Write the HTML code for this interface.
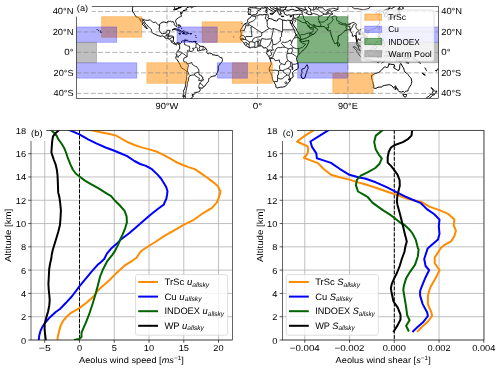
<!DOCTYPE html><html><head><meta charset="utf-8"><style>html,body{margin:0;padding:0;background:#fff;overflow:hidden}svg{display:block;will-change:transform;text-rendering:geometricPrecision;font-family:"Liberation Sans",sans-serif}</style></head><body>
<svg width="500" height="370" viewBox="0 0 500 370" font-size="8.60" fill="#000">
<rect width="500" height="370" fill="#fff"/>
<defs><clipPath id="mc"><rect x="76.50" y="6.40" width="362.00" height="92.10"/></clipPath>
<clipPath id="bc"><rect x="31.00" y="130.40" width="201.50" height="209.60"/></clipPath>
<clipPath id="cc"><rect x="282.40" y="130.40" width="201.60" height="209.60"/></clipPath>
</defs>
<g clip-path="url(#mc)">
<path d="M132.80,4.25 L132.69,6.30 L132.69,7.33 L132.39,8.56 L132.59,9.89 L132.39,11.01 L133.00,11.94 L133.80,13.27 L134.30,13.68 L134.40,14.29 L134.91,14.91 L135.31,15.52 L136.21,16.96 L137.32,17.16 L138.32,17.57 L138.83,17.98 L139.63,18.90 L140.13,19.82 L140.64,20.85 L141.14,21.67 L142.04,22.69 L142.65,23.20 L142.75,23.92 L141.94,24.02 L142.65,24.74 L143.75,25.56 L144.66,26.59 L144.76,27.20 L145.66,27.71 L146.57,28.43 L146.97,28.94 L147.37,28.53 L146.97,27.81 L146.37,27.61 L146.17,26.99 L145.56,25.97 L144.96,25.05 L144.36,24.23 L143.95,23.51 L143.35,22.49 L142.55,21.46 L142.04,20.34 L142.24,19.82 L143.25,20.34 L143.95,20.64 L144.36,21.46 L144.66,22.39 L145.36,23.31 L146.06,23.82 L146.67,24.54 L147.47,25.46 L147.67,26.18 L148.48,26.69 L149.28,27.40 L150.39,28.53 L151.19,29.35 L151.49,30.38 L151.59,31.30 L151.29,31.60 L151.90,32.53 L152.60,32.83 L153.40,33.65 L154.71,34.06 L155.92,34.68 L157.02,35.19 L158.43,35.70 L159.94,36.21 L160.94,36.32 L161.75,35.91 L162.55,35.80 L163.46,36.21 L164.66,37.44 L165.57,38.16 L166.87,38.37 L167.68,38.57 L168.58,38.88 L169.19,38.78 L169.49,39.19 L170.19,39.80 L171.00,40.72 L171.30,41.13 L171.20,41.75 L171.40,42.26 L172.00,42.57 L172.40,42.57 L172.81,42.87 L173.41,43.59 L173.71,43.90 L174.11,44.20 L174.82,44.00 L175.52,44.51 L176.12,45.02 L176.63,44.92 L177.03,44.72 L176.63,44.20 L177.43,43.28 L178.03,43.28 L178.54,43.80 L178.84,43.90 L178.64,44.20 L179.14,45.02 L179.54,45.54 L179.64,46.77 L179.74,48.30 L179.54,49.12 L178.64,49.74 L178.33,50.56 L177.53,51.17 L177.03,51.58 L176.93,52.40 L176.63,52.71 L176.12,53.42 L176.32,54.35 L176.12,54.65 L176.73,55.06 L177.13,54.86 L177.23,55.47 L176.73,55.88 L175.92,56.50 L175.72,57.21 L176.02,57.73 L175.82,58.44 L176.12,58.65 L177.23,59.78 L178.03,61.00 L178.84,62.64 L179.94,64.49 L180.75,66.23 L181.05,67.46 L181.85,68.07 L183.56,69.10 L184.87,69.81 L185.67,70.63 L186.68,71.25 L186.88,72.68 L186.98,74.32 L186.78,75.45 L186.48,76.58 L186.68,78.01 L186.18,80.67 L185.67,82.01 L185.57,83.23 L185.37,84.67 L185.57,85.59 L185.17,87.13 L184.57,88.77 L183.86,90.41 L183.46,90.51 L183.56,91.63 L183.86,92.66 L183.36,93.38 L183.16,94.40 L183.46,94.91 L184.27,95.22 L184.47,95.83 L184.27,96.96 L183.66,97.68 L183.56,98.70 L183.06,100.03 M183.16,95.22 L183.56,95.53 L183.46,96.55 L182.86,96.76 L183.06,95.42 L183.16,95.22 M189.59,100.03 L189.90,99.01 L190.90,98.50 L191.81,98.40 L192.11,97.17 L192.81,96.35 L193.51,96.14 L192.91,95.73 L192.01,95.42 L192.11,94.61 L193.31,94.61 L194.52,94.20 L194.92,93.79 L194.72,92.56 L195.63,92.35 L197.13,92.25 L198.54,91.94 L199.55,91.43 L199.95,90.61 L200.45,89.69 L199.85,89.18 L200.05,88.66 L199.14,88.05 L198.74,87.74 L199.34,87.64 L200.05,87.74 L200.95,88.15 L202.16,88.15 L203.06,87.64 L203.77,86.92 L204.47,86.41 L205.68,84.77 L206.48,83.75 L207.19,82.62 L208.39,81.60 L208.59,80.57 L208.69,79.55 L208.69,78.83 L209.60,77.91 L210.81,76.99 L212.61,76.27 L214.02,75.96 L215.23,75.86 L216.23,74.94 L216.43,73.91 L217.04,73.09 L217.54,72.27 L218.04,70.63 L218.34,68.79 L218.24,67.25 L218.34,66.33 L218.95,65.51 L219.65,64.49 L220.36,63.46 L221.46,62.34 L222.16,61.41 L222.37,60.39 L222.47,59.67 L222.16,58.75 L221.86,57.73 L220.76,57.62 L219.75,57.11 L218.75,56.19 L217.64,55.37 L215.83,55.37 L214.83,55.06 L213.22,54.86 L212.72,55.06 L212.61,54.24 L211.21,53.42 L209.40,53.01 L208.59,53.73 L207.99,53.94 L207.69,53.32 L206.98,52.91 L206.38,52.30 L206.78,51.48 L207.19,50.66 L206.58,50.15 L206.08,48.81 L205.48,48.10 L204.57,47.07 L203.27,46.46 L202.16,46.25 L200.95,46.36 L200.05,46.25 L199.14,45.43 L198.64,44.92 L197.33,43.80 L196.53,43.59 L196.13,43.69 L195.52,42.26 L194.82,41.85 L194.42,41.54 L195.22,41.44 L194.12,41.44 L192.81,41.75 L192.11,42.05 L190.90,41.54 L189.79,41.64 L188.89,41.64 L188.19,40.72 L187.18,40.72 L186.88,40.52 L187.08,39.90 L186.78,40.21 L185.77,40.41 L185.57,41.23 L185.17,40.52 L184.87,40.21 L185.37,39.70 L184.77,39.90 L183.76,40.82 L182.86,40.82 L182.15,41.03 L181.55,41.54 L181.35,42.77 L180.75,43.28 L180.24,43.59 L180.14,44.10 L179.74,43.59 L179.14,42.87 L178.54,42.77 L177.43,42.57 L176.52,43.08 L175.62,43.39 L174.82,42.98 L174.41,42.57 L173.61,41.75 L173.31,41.13 L173.31,40.21 L173.51,39.19 L173.51,38.06 L173.71,37.03 L173.01,36.42 L172.10,36.11 L171.00,36.01 L169.99,36.11 L168.78,36.32 L168.38,36.21 L168.68,35.50 L168.78,34.58 L169.09,33.65 L169.49,32.63 L169.59,31.60 L170.19,30.58 L169.39,30.38 L168.38,30.38 L166.67,30.89 L166.47,31.60 L166.47,32.12 L165.97,32.94 L165.06,33.35 L164.16,33.35 L162.55,33.76 L161.95,33.35 L161.04,33.14 L160.64,32.63 L160.44,32.01 L159.74,31.30 L159.54,30.58 L159.13,29.56 L159.23,28.02 L159.44,26.79 L159.74,25.87 L159.54,24.84 L159.84,23.92 L160.64,23.31 L161.95,22.49 L162.95,21.98 L164.46,22.08 L165.97,22.49 L167.58,22.79 L167.78,22.39 L167.38,21.46 L168.58,21.26 L169.49,21.36 L170.59,21.26 L171.70,21.98 L172.91,21.57 L174.01,22.59 L174.31,23.72 L174.31,24.43 L175.22,25.66 L176.02,26.59 L176.63,26.48 L176.93,25.56 L176.93,24.74 L176.42,23.41 L176.02,22.39 L175.62,21.26 L175.72,20.44 L176.22,19.41 L177.13,18.80 L178.03,18.08 L178.54,17.67 L179.64,17.06 L180.55,16.65 L181.55,16.24 L181.35,15.42 L181.15,14.60 L180.75,14.50 L181.05,14.19 L180.75,12.96 L180.65,12.24 L181.05,13.17 L181.55,13.88 L181.95,13.17 L181.95,12.65 L181.65,12.14 L182.05,12.55 L182.15,12.24 L182.86,11.73 L183.06,10.91 L183.16,10.60 L184.57,10.40 L185.17,10.09 L186.08,9.89 L186.38,9.89 L187.08,9.68 L186.98,9.38 L186.48,9.07 L186.18,8.66 L186.38,8.25 L186.88,7.63 L188.09,7.33 L189.09,6.92 L190.10,6.51 L190.20,6.10 L191.60,5.69 L192.61,5.89 M183.06,10.81 L185.07,10.50 L185.17,10.30 L183.36,10.50 L183.06,10.81 M172.10,29.97 L173.01,29.25 L174.01,28.84 L175.02,28.63 L176.52,28.84 L177.53,29.35 L178.74,29.45 L179.84,30.27 L181.05,30.68 L181.45,31.19 L182.86,31.71 L182.15,31.91 L179.34,32.01 L179.84,31.40 L178.94,31.09 L178.33,30.27 L176.63,30.07 L175.22,29.66 L174.82,29.45 L173.51,29.66 L172.50,30.07 L172.10,29.97 M182.66,33.45 L184.06,32.01 L185.37,32.01 L187.08,32.32 L188.09,32.94 L188.69,33.35 L188.39,33.76 L187.08,33.76 L185.77,34.37 L185.07,33.76 L183.66,33.76 L182.66,33.55 L184.37,33.35 L184.27,32.53 L183.66,32.22 L182.66,33.45 M178.74,33.55 L180.14,33.45 L180.85,33.96 L179.84,34.27 L178.84,33.76 L178.74,33.55 M189.90,33.45 L191.50,33.55 L191.50,33.96 L189.90,33.96 L189.90,33.45 M179.04,26.59 L179.34,27.51 L178.74,27.81 L178.64,26.99 L179.04,26.59 M178.03,25.05 L179.14,24.95 L178.43,25.25 L178.03,25.05 M179.64,24.84 L180.04,25.25 L179.84,25.87 L179.64,24.84 M180.35,26.18 L180.95,26.99 L180.75,26.48 L180.35,26.18 M181.25,28.33 L181.85,28.74 L181.55,28.22 L181.25,28.33 M183.56,30.68 L184.27,30.99 L183.36,30.99 L183.56,30.68 M195.22,42.05 L196.13,42.05 L196.13,41.34 L195.42,41.44 L195.22,42.05 M195.42,35.70 L195.93,35.70 L195.63,36.01 L195.42,35.70 M195.93,37.14 L196.23,37.65 L196.03,37.55 L195.93,37.14 M100.73,31.71 L101.63,32.22 L101.03,33.04 L100.63,32.32 L100.73,31.71 M99.92,30.89 L100.63,31.09 L100.22,31.30 L99.92,30.89 M98.31,30.27 L98.92,30.58 L98.52,30.58 L98.31,30.27 M96.81,29.66 L97.31,29.66 L97.11,29.97 L96.81,29.66 M173.61,9.68 L174.51,9.78 L175.82,9.58 L177.03,9.17 L178.03,8.76 L177.83,8.04 L179.24,8.04 L180.55,7.84 L180.85,7.22 L181.55,6.71 L180.65,7.12 L179.54,7.43 L178.03,7.84 L177.43,8.45 L176.02,8.97 L174.51,9.27 L173.61,9.68 M192.61,5.89 L191.20,6.71 L190.90,7.53 L191.60,7.84 L192.61,7.12 L193.61,6.71 L195.12,6.30 L196.13,5.99 L196.63,5.28 M251.82,15.62 L251.12,16.55 L250.61,17.57 L249.81,17.98 L248.91,18.39 L248.10,19.11 L247.60,20.23 L247.80,21.26 L247.40,22.18 L246.39,23.20 L244.88,23.82 L244.18,24.74 L242.87,25.66 L242.47,27.10 L241.47,28.12 L241.06,29.15 L240.46,30.27 L240.31,31.09 L240.86,32.32 L241.26,33.45 L241.16,34.58 L240.86,35.80 L240.26,37.03 L239.86,37.34 L240.36,37.85 L240.66,38.57 L240.56,39.70 L240.86,40.11 L241.87,40.62 L242.37,41.23 L242.77,41.85 L243.68,42.67 L244.18,43.39 L244.48,44.41 L245.19,45.02 L245.99,45.43 L246.59,45.95 L247.90,46.87 L249.91,47.89 L250.41,47.89 L251.62,47.28 L253.43,47.07 L254.64,47.28 L255.54,47.48 L256.44,47.18 L257.45,46.66 L258.66,46.15 L260.16,45.95 L261.07,45.84 L261.97,45.95 L262.68,46.56 L263.38,48.00 L264.19,48.00 L264.99,47.79 L265.99,47.69 L266.70,48.40 L267.30,49.22 L267.30,50.15 L267.00,51.38 L266.80,52.09 L266.50,53.01 L267.00,54.14 L268.01,55.27 L268.71,56.29 L269.41,57.42 L269.81,58.65 L270.42,60.08 L270.72,61.21 L271.02,62.44 L271.32,63.46 L271.12,64.69 L270.22,65.82 L269.81,67.05 L269.31,68.59 L269.11,70.12 L269.61,71.25 L270.42,72.58 L270.92,73.81 L271.83,75.24 L272.03,76.78 L272.43,78.42 L272.73,80.16 L273.84,81.70 L274.44,82.62 L274.84,83.85 L275.75,84.87 L275.85,85.80 L275.95,87.13 L276.35,87.64 L277.15,88.05 L278.06,87.74 L279.06,87.54 L280.17,87.13 L281.17,87.13 L282.58,87.13 L283.39,86.92 L284.09,86.82 L285.10,86.41 L285.80,85.90 L286.80,84.77 L287.71,83.64 L288.51,82.62 L289.12,81.80 L290.02,81.39 L290.22,79.75 L290.52,79.24 L290.22,78.73 L291.03,78.32 L292.23,77.81 L293.14,77.09 L293.04,75.04 L292.43,72.89 L292.33,72.58 L293.44,71.66 L294.54,70.43 L295.85,69.92 L297.26,69.30 L298.16,68.18 L298.36,66.95 L298.16,65.20 L297.96,62.95 L297.06,61.11 L296.96,59.88 L296.45,59.06 L296.86,57.93 L297.26,56.91 L297.86,55.47 L298.57,54.55 L299.27,54.14 L300.27,53.01 L301.28,51.68 L302.18,50.76 L303.29,50.35 L304.30,49.43 L305.40,48.10 L306.31,46.97 L307.21,45.43 L308.02,43.90 L308.62,42.36 L308.82,41.54 L308.72,40.62 L309.02,40.31 L307.51,40.82 L305.70,40.93 L304.20,41.44 L302.69,41.64 L301.68,41.75 L300.98,40.62 L300.38,40.52 L300.98,39.70 L300.48,39.49 L299.27,38.67 L298.57,37.85 L297.46,36.83 L296.86,36.11 L296.15,34.06 L295.05,33.14 L294.75,31.91 L294.85,30.89 L294.54,29.86 L293.24,28.74 L293.14,27.71 L292.23,26.18 L291.53,24.74 L290.72,23.31 L290.22,21.77 L289.92,20.34 L288.81,20.23 L287.61,20.13 L286.60,20.75 L285.10,20.34 L282.78,20.03 L281.58,19.62 L280.67,19.00 L279.26,18.70 L277.66,19.41 L277.46,20.64 L276.35,21.05 L275.04,20.64 L273.13,20.13 L272.73,19.31 L270.62,18.70 L269.01,18.49 L268.01,17.88 L267.70,17.26 L268.61,16.34 L268.11,15.62 L268.41,14.80 L267.70,14.29 L267.00,14.19 L265.89,14.60 L264.79,14.39 L262.78,14.91 L260.67,14.70 L258.96,14.91 L257.45,15.62 L256.24,15.83 L255.24,16.34 L253.83,16.14 L252.83,16.24 L252.12,15.62 L251.82,15.62 M307.01,64.69 L307.71,66.23 L308.22,68.28 L307.51,69.30 L307.21,70.33 L306.51,72.38 L305.70,74.94 L304.80,77.91 L303.09,78.62 L301.68,78.01 L300.98,75.04 L301.58,73.91 L302.08,72.38 L301.68,70.33 L302.08,69.00 L303.99,68.59 L305.40,67.36 L305.70,66.43 L306.51,65.82 L307.01,64.69 M241.57,23.51 L241.97,23.82 L241.77,24.02 L241.57,23.51 M233.62,36.83 L233.93,37.03 L233.73,37.14 L233.62,36.83 M256.24,5.28 L256.14,6.81 L255.94,7.84 L255.44,7.94 L253.63,7.84 L251.82,7.74 L249.91,7.63 L249.21,8.04 L248.10,8.35 L248.40,9.38 L248.60,10.40 L247.90,12.45 L248.30,12.86 L248.60,12.96 L248.70,13.98 L248.40,14.50 L249.91,14.39 L250.82,14.50 L251.12,15.01 L251.82,15.52 L252.42,15.11 L253.03,14.80 L255.34,14.80 L255.84,14.19 L256.75,13.88 L257.15,12.96 L257.65,12.65 L257.15,12.14 L257.45,11.42 L258.35,10.40 L259.66,9.99 L260.67,9.48 L260.57,8.35 L261.97,7.84 L263.98,8.25 L264.99,7.53 L266.10,7.02 L267.40,7.33 L268.01,8.45 L268.71,8.97 L270.02,9.89 L271.12,10.19 L272.63,11.22 L273.23,11.42 L273.74,12.55 L273.23,13.27 L273.64,13.47 L274.14,12.65 L274.74,12.04 L274.04,11.42 L274.54,11.01 L276.05,11.32 L275.95,10.91 L274.54,10.30 L273.53,9.48 L271.52,8.56 L269.92,7.12 L269.81,5.99 L269.92,5.28 M270.52,5.28 L271.12,6.20 L271.83,5.99 L272.73,7.12 L273.53,7.84 L274.54,8.15 L276.05,8.86 L276.95,9.48 L276.95,11.01 L277.76,11.83 L278.66,13.17 L279.16,14.50 L280.37,15.11 L280.77,14.50 L280.37,13.78 L281.48,13.47 L280.17,12.65 L280.77,12.24 L280.17,11.12 L280.87,11.12 L281.98,11.32 L283.59,10.60 L283.89,11.32 L283.79,12.04 L284.59,13.06 L283.89,13.27 L284.89,14.19 L285.90,14.80 L287.31,15.42 L288.21,14.80 L289.52,14.91 L291.13,15.42 L292.63,14.91 L293.74,14.70 L293.44,15.21 L293.54,16.14 L293.14,17.57 L292.74,18.49 L292.23,19.62 L291.83,20.34 L290.62,20.54 L289.92,20.34 M286.50,4.77 L287.21,5.99 L286.20,7.63 L285.30,8.76 L285.60,9.78 L286.60,10.19 L288.81,10.30 L291.13,9.38 L292.74,9.38 L294.54,10.09 L295.95,10.50 L298.06,10.40 L299.27,9.89 L299.27,8.76 L297.66,7.94 L295.85,6.92 L294.65,6.20 L294.24,5.89 L292.63,6.30 L291.13,6.81 L290.12,5.99 L291.13,5.28 M304.70,5.28 L305.20,8.35 L306.31,9.58 L307.31,10.81 L307.01,12.04 L306.61,13.06 L306.91,13.88 L307.92,14.09 L309.22,14.70 L311.63,14.60 L311.53,13.47 L310.93,12.14 L310.43,11.42 L310.73,10.60 L310.53,9.68 L310.23,8.56 L309.02,8.25 L308.52,7.33 L309.02,6.30 L310.73,5.99 L310.93,5.28 M316.26,5.28 L315.96,6.30 L316.56,7.33 L317.47,6.61 L318.27,5.79 L318.77,5.28 M269.92,13.58 L271.22,13.37 L273.13,13.17 L272.63,14.50 L271.83,14.50 L270.02,13.88 L269.92,13.58 M265.69,10.40 L267.10,10.30 L267.20,12.24 L265.99,12.55 L265.89,11.01 L265.69,10.40 M266.10,8.45 L266.90,8.35 L267.00,9.38 L266.70,9.99 L266.10,9.48 L266.10,8.45 M281.07,16.24 L283.89,16.24 L283.79,16.55 L282.28,16.65 L281.07,16.24 M289.92,16.55 L292.23,15.83 L291.63,16.55 L290.62,16.96 L289.92,16.55 M290.22,21.77 L290.32,22.49 L291.23,23.72 L291.93,24.02 L292.23,23.20 L292.53,22.18 L292.74,23.61 L293.84,25.77 L295.15,27.51 L296.15,28.84 L296.76,30.38 L297.46,31.60 L298.47,32.94 L299.17,34.47 L300.07,36.01 L300.48,37.24 L300.88,38.78 L301.18,39.49 L302.18,39.39 L302.79,39.19 L304.30,38.67 L306.41,38.06 L307.81,37.14 L309.52,36.52 L309.93,36.11 L310.83,35.39 L313.04,34.37 L314.05,34.06 L314.55,33.04 L315.56,32.83 L315.45,31.91 L316.26,31.50 L317.06,30.48 L317.57,29.56 L316.46,28.22 L315.15,27.92 L314.25,26.89 L314.15,25.36 L313.75,25.77 L313.24,26.38 L312.44,26.99 L311.74,27.71 L310.33,27.61 L309.32,27.51 L309.32,26.59 L309.22,25.66 L308.72,25.77 L308.32,26.79 L307.81,25.87 L307.92,25.05 L307.21,24.64 L306.51,24.02 L306.11,23.10 L305.40,22.69 L305.70,21.77 L306.31,21.77 L307.31,21.67 L307.81,21.57 L308.62,22.59 L309.12,23.82 L310.23,24.13 L311.23,24.95 L312.44,25.25 L313.44,24.74 L314.25,24.64 L315.15,26.07 L316.26,26.18 L317.36,26.38 L319.27,26.69 L320.68,26.59 L322.29,26.59 L324.20,26.38 L324.90,27.10 L325.21,27.92 L326.01,28.12 L326.61,28.94 L327.52,29.35 L328.32,28.84 L328.02,29.66 L326.81,29.56 L328.32,30.99 L329.03,31.09 L330.43,30.48 L330.63,31.50 L330.63,32.94 L331.04,34.06 L331.34,36.01 L332.24,37.44 L332.54,39.08 L333.25,40.31 L333.85,41.64 L334.35,42.67 L335.36,44.10 L336.06,43.28 L336.87,42.87 L337.77,41.75 L337.67,40.41 L338.17,39.08 L338.17,36.11 L339.08,35.50 L340.08,35.39 L341.79,33.65 L343.00,32.42 L344.41,31.71 L344.91,30.38 L346.82,30.17 L347.62,29.86 L348.23,30.07 L348.53,29.45 L349.33,29.04 L349.73,29.66 L350.14,30.68 L350.34,31.19 L351.04,32.01 L351.64,32.94 L352.25,33.76 L352.45,34.68 L352.15,36.01 L352.75,36.21 L353.35,36.32 L354.46,35.60 L355.16,35.09 L355.57,35.91 L355.77,37.24 L356.17,39.08 L356.47,40.11 L356.57,41.85 L356.27,43.18 L356.27,44.00 L356.87,44.41 L357.17,45.43 L358.08,45.84 L358.28,46.97 L358.78,48.20 L359.28,49.33 L360.09,50.15 L360.99,50.76 L361.50,51.07 L362.20,51.07 L361.80,49.84 L361.40,48.92 L361.40,47.38 L360.59,46.25 L359.59,45.54 L358.28,44.82 L357.98,43.90 L357.37,42.98 L357.17,41.75 L357.58,40.31 L357.88,39.29 L358.08,38.67 L358.88,39.39 L358.88,40.11 L360.09,39.90 L360.59,40.31 L361.09,41.13 L361.70,41.64 L362.30,41.64 L363.10,43.18 L362.80,43.59 L363.31,43.49 L364.41,42.67 L364.81,41.75 L365.72,41.64 L366.92,40.82 L367.33,40.11 L367.23,38.67 L366.92,36.73 L366.32,35.91 L365.42,35.29 L364.61,34.06 L363.71,33.04 L363.91,32.12 L364.71,31.19 L365.92,30.27 L366.52,30.17 L367.93,30.48 L368.43,31.60 L368.53,30.68 L369.84,30.27 L371.25,29.76 L372.25,29.66 L373.96,29.04 L375.37,28.22 L376.78,27.30 L377.68,26.07 L377.78,24.95 L378.49,24.64 L379.09,23.61 L379.79,23.51 L379.79,21.87 L380.19,21.67 L379.49,21.16 L379.99,19.93 L378.99,19.11 L378.49,18.19 L377.28,16.96 L378.69,15.42 L380.60,14.60 L379.19,13.78 L377.08,14.19 L376.98,13.47 L375.57,12.76 L376.07,12.24 L377.68,11.53 L379.09,10.60 L380.30,11.01 L379.69,12.04 L379.49,12.45 L380.30,11.83 L381.60,11.63 L382.41,11.53 L383.41,11.83 L383.21,12.86 L384.32,13.78 L384.62,14.80 L384.62,16.55 L385.52,17.06 L386.83,16.44 L387.63,15.93 L387.53,14.70 L386.53,13.17 L385.62,12.14 L386.43,11.42 L387.83,10.50 L387.83,9.78 L388.74,8.97 L390.45,8.04 L391.65,8.56 L393.67,7.43 L395.37,6.30 L396.18,5.28 M337.67,44.00 L337.87,42.36 L339.08,43.59 L339.68,44.72 L339.18,46.05 L338.07,46.25 L337.67,45.23 L337.67,44.00 M378.18,28.84 L378.79,29.86 L379.59,29.15 L379.99,27.30 L379.69,26.48 L378.79,27.20 L378.18,28.84 M366.62,32.63 L367.53,33.76 L368.63,33.35 L369.04,32.22 L368.23,31.81 L367.23,32.01 L366.62,32.63 M389.04,17.57 L390.05,16.85 L390.75,16.14 L392.76,15.93 L393.97,16.03 L394.87,14.70 L395.58,14.70 L397.08,13.68 L397.79,12.86 L398.19,12.04 L398.19,10.81 L398.49,10.19 L399.60,9.99 L399.70,11.42 L400.20,11.94 L399.70,13.17 L399.09,13.27 L399.19,14.50 L398.79,15.21 L399.09,15.83 L398.49,16.44 L397.99,16.65 L397.38,16.24 L396.98,16.96 L395.37,16.96 L395.07,17.26 L393.97,18.08 L393.26,16.96 L391.45,17.16 L390.35,17.67 L389.04,17.57 M387.94,18.29 L388.74,20.44 L389.44,20.23 L390.05,19.00 L389.54,17.98 L388.54,17.57 L387.94,18.29 M390.55,18.59 L391.65,18.29 L392.96,17.78 L392.16,17.26 L391.15,17.57 L390.55,18.59 M398.19,9.89 L399.19,9.78 L399.50,8.76 L401.51,9.48 L403.72,8.04 L402.71,7.33 L400.20,5.79 L399.80,6.10 L399.60,7.94 L398.59,8.04 L397.99,8.86 L398.19,9.89 M400.10,5.28 L400.30,5.38 L401.21,4.77 M378.69,33.45 L380.40,33.65 L380.19,34.88 L379.69,36.01 L379.79,37.75 L381.00,38.06 L382.31,39.49 L381.40,38.88 L379.59,38.26 L378.69,37.75 L378.08,36.62 L377.98,35.60 L378.49,34.47 L378.69,33.45 M380.09,45.23 L381.50,44.41 L382.10,44.00 L383.51,42.36 L384.62,44.82 L384.32,45.95 L383.61,46.66 L382.21,45.95 L381.40,44.72 L380.09,45.23 M375.27,43.80 L377.68,40.82 L377.38,41.75 L375.27,43.80 M382.41,39.59 L383.81,39.80 L383.31,41.13 L382.41,41.54 L382.41,39.59 M380.09,40.31 L381.20,41.03 L380.60,41.54 L379.99,41.64 L380.09,40.31 M380.60,41.64 L381.60,42.67 L381.30,43.08 L380.50,42.36 L380.60,41.64 M367.03,50.86 L367.63,50.35 L369.04,50.66 L371.05,49.12 L372.05,47.69 L373.56,46.97 L374.26,46.05 L375.07,45.23 L375.77,46.05 L377.28,46.87 L376.37,47.69 L375.77,48.30 L375.87,50.35 L376.98,51.48 L375.87,51.79 L375.57,53.22 L374.67,53.94 L374.26,55.47 L372.66,56.29 L371.05,55.58 L369.74,55.47 L368.23,55.37 L368.13,54.14 L367.33,52.71 L367.03,51.89 L367.03,50.86 M353.25,46.66 L355.46,47.07 L356.37,48.10 L357.68,49.12 L358.58,50.25 L359.69,50.25 L360.99,51.68 L361.80,52.40 L362.50,53.42 L363.91,54.96 L364.01,55.47 L363.81,58.44 L362.60,58.44 L360.59,56.70 L359.28,55.17 L358.28,53.42 L357.07,52.20 L356.57,50.56 L355.16,49.02 L354.36,48.30 L353.35,47.38 L353.25,46.66 M363.81,59.37 L364.11,58.55 L366.32,58.96 L368.03,59.47 L369.64,59.16 L370.64,59.47 L372.66,60.29 L372.45,61.31 L370.24,60.90 L368.43,60.60 L366.72,60.39 L364.41,59.88 L363.81,59.37 M373.16,60.70 L373.76,61.00 L373.26,61.41 L372.55,60.90 L373.16,60.70 M374.06,60.90 L374.77,60.90 L374.57,61.52 L374.06,61.41 L374.06,60.90 M374.97,61.11 L377.08,60.90 L376.98,61.41 L375.07,61.62 L374.97,61.11 M377.88,61.11 L380.90,60.80 L381.00,61.21 L378.08,61.41 L377.88,61.11 M377.08,62.13 L378.69,62.23 L378.49,62.85 L377.08,62.34 L377.08,62.13 M381.70,62.95 L383.21,61.62 L385.12,60.90 L383.11,62.13 L381.70,62.95 M377.48,58.03 L377.58,55.99 L376.88,55.27 L377.88,52.40 L378.08,51.58 L379.09,51.07 L381.10,51.48 L382.61,50.86 L383.11,50.76 L382.10,51.58 L379.59,51.89 L378.28,52.91 L379.09,53.83 L380.60,53.22 L381.40,53.32 L380.09,53.94 L379.59,54.45 L380.40,55.78 L381.30,57.01 L380.80,58.03 L379.89,57.32 L379.39,56.50 L378.69,55.37 L378.49,57.01 L378.49,58.03 L377.48,58.03 M385.92,50.45 L386.13,51.58 L386.83,51.27 L386.33,52.09 L387.03,52.81 L385.92,53.22 L385.62,51.79 L385.92,50.45 M386.13,55.78 L388.14,55.47 L388.94,56.29 L386.93,56.09 L386.13,55.78 M384.12,55.68 L385.32,55.78 L385.02,56.29 L384.22,56.09 L384.12,55.68 M389.14,53.83 L390.55,52.81 L392.26,53.32 L393.16,55.78 L394.47,54.76 L396.08,53.94 L398.19,54.76 L399.70,55.06 L402.71,56.29 L403.92,57.32 L404.02,58.03 L405.83,58.65 L405.23,59.37 L406.13,60.60 L406.94,61.72 L408.24,62.85 L409.05,62.95 L408.04,63.05 L406.13,62.75 L404.22,60.70 L402.71,60.19 L401.51,60.90 L401.61,61.62 L399.19,61.72 L397.28,60.70 L396.18,61.00 L396.88,59.88 L396.58,58.75 L395.17,57.42 L393.36,57.01 L391.86,55.99 L390.95,56.60 L390.15,55.27 L391.15,54.65 L390.35,54.65 L389.14,53.83 M406.53,58.03 L408.24,57.52 L409.85,56.70 L410.65,56.80 L409.75,58.03 L408.44,58.85 L406.94,58.55 L406.53,58.03 M409.05,55.17 L410.45,55.78 L411.26,57.21 L411.06,56.09 L409.05,55.17 M412.87,57.52 L414.17,59.06 L413.47,59.16 L412.87,57.52 M414.78,59.16 L417.29,60.49 L416.28,60.60 L414.78,59.16 M417.89,60.90 L419.30,62.03 L418.29,62.23 L417.89,60.90 M419.10,61.00 L419.80,62.23 L419.30,61.93 L419.10,61.00 M419.70,62.85 L420.51,63.26 L419.80,63.16 L419.70,62.85 M424.93,67.77 L425.53,68.38 L425.13,68.38 L424.93,67.77 M425.53,68.79 L426.14,69.30 L425.73,69.41 L425.53,68.79 M426.44,70.33 L426.94,70.63 L426.54,70.63 L426.44,70.33 M422.32,72.99 L423.32,73.40 L425.33,75.14 L424.73,75.24 L422.72,73.91 L422.32,72.99 M435.69,70.33 L436.89,70.22 L436.99,70.94 L435.79,70.94 L435.69,70.33 M437.29,69.10 L438.40,69.00 L437.80,69.61 L437.29,69.10 M371.75,74.94 L371.45,77.40 L371.95,79.03 L372.25,80.57 L372.96,82.62 L373.06,84.16 L373.76,85.18 L373.66,86.82 L373.06,87.54 L374.06,88.15 L375.97,88.36 L377.98,87.23 L379.99,87.02 L381.70,87.13 L382.31,86.21 L384.22,85.49 L386.13,85.18 L388.14,84.77 L389.64,84.67 L391.15,85.39 L392.26,86.10 L393.36,87.74 L394.07,88.15 L394.17,87.02 L395.37,86.21 L395.98,85.80 L395.68,87.64 L395.17,88.25 L396.08,88.15 L396.38,87.54 L396.68,88.25 L396.28,88.87 L397.79,88.87 L397.99,90.30 L398.79,91.33 L399.80,91.74 L400.90,91.94 L401.81,92.15 L403.12,91.22 L403.72,91.84 L404.62,92.45 L405.73,91.22 L406.53,91.12 L408.14,90.81 L408.24,89.48 L408.95,88.25 L409.45,87.23 L410.15,86.10 L411.16,84.67 L411.36,83.54 L411.86,81.70 L411.46,80.06 L411.36,78.83 L410.65,77.70 L409.25,76.47 L408.95,75.55 L407.74,74.42 L406.73,73.20 L404.72,71.86 L404.22,70.33 L403.52,67.77 L402.71,66.95 L401.81,65.00 L400.70,63.36 L400.20,64.18 L399.80,65.20 L399.70,66.74 L399.70,68.28 L398.99,70.22 L397.69,70.33 L396.18,69.30 L394.97,68.59 L393.67,67.77 L394.07,66.43 L394.67,65.00 L393.97,64.59 L392.16,64.49 L390.65,64.18 L389.95,63.98 L388.64,65.10 L387.63,67.66 L386.73,67.56 L385.62,66.95 L384.32,66.95 L383.31,68.07 L382.41,69.10 L381.60,70.12 L380.30,70.94 L379.39,72.27 L377.28,72.89 L375.07,73.50 L373.56,74.42 L372.55,74.73 L372.25,75.45 L371.75,74.94 M388.24,64.08 L389.54,63.98 L388.94,64.49 L388.24,64.08 M394.77,66.54 L395.07,66.95 L394.57,66.95 L394.77,66.54 M395.17,88.87 L396.08,88.97 L395.78,89.28 L394.77,89.18 L395.17,88.87 M402.91,94.09 L404.72,94.50 L406.53,94.30 L406.53,95.53 L406.13,96.65 L405.13,97.06 L403.72,96.35 L402.91,94.61 L402.91,94.09 M431.06,87.64 L432.67,88.56 L433.37,90.00 L434.28,90.71 L435.38,91.22 L436.89,91.02 L436.39,92.35 L435.28,92.86 L434.38,94.71 L433.58,95.02 L433.07,94.71 L433.58,93.89 L432.97,93.17 L432.17,92.56 L432.97,92.15 L433.07,90.71 L432.67,89.79 L431.36,88.46 L431.06,87.64 M431.06,93.89 L432.27,94.30 L432.67,95.12 L431.67,96.35 L431.06,96.86 L429.55,97.78 L429.05,98.50 L428.65,99.52 M425.33,99.52 L426.74,97.47 L428.85,96.45 L429.86,95.22 L430.46,94.30 L431.06,93.89" fill="none" stroke="#000" stroke-width="1.0" stroke-linejoin="round"/>
<path d="M139.73,19.11 L142.14,18.90 L145.86,20.34 L148.68,20.34 L148.68,19.82 L150.39,19.82 L152.40,22.08 L153.91,22.69 L155.51,21.87 L157.42,24.23 L159.74,25.87 M173.91,5.28 L174.61,8.35 L173.91,9.27 L174.31,9.68 L178.03,8.56 L177.93,8.04 L180.75,7.12 L182.36,6.30 L185.57,6.30 L187.08,5.28 M164.76,37.55 L164.76,36.73 L165.27,35.91 L166.57,35.91 L166.57,34.17 L167.88,34.17 L168.68,33.45 M167.88,34.17 L167.78,36.11 L168.78,36.32 M167.78,36.11 L167.78,36.93 L167.88,37.65 L166.87,38.37 M167.88,37.65 L168.48,38.06 L169.19,38.67 M169.69,39.08 L171.00,38.16 L171.90,37.44 L173.81,37.03 M171.30,41.03 L173.01,41.23 L173.31,41.23 M174.11,44.20 L174.41,42.67 M179.14,45.02 L179.64,43.59 M178.13,50.97 L179.24,51.58 L181.75,52.50 M185.17,40.52 L184.77,41.03 L184.17,42.16 L184.67,44.20 L184.57,44.82 L186.38,45.13 L187.68,46.15 L189.29,46.05 L189.79,48.81 L189.29,49.53 L190.00,51.27 M190.00,51.27 L187.18,50.66 L187.58,51.68 L187.08,52.60 L187.18,56.70 M181.75,52.50 L183.36,53.73 L185.07,54.86 L186.38,56.29 L187.18,56.70 M176.73,55.88 L178.03,57.52 L178.64,55.99 L180.45,55.06 L181.75,52.50 M187.18,56.70 L184.17,57.83 L183.46,59.88 L184.06,62.03 L186.58,62.13 L186.48,63.67 L187.48,63.57 M187.48,63.57 L188.39,65.31 L187.78,68.18 L187.48,70.43 L187.18,70.94 M186.68,71.25 L187.18,70.94 L188.19,72.27 L188.89,74.42 L190.00,75.65 M190.00,75.65 L188.69,77.50 L188.49,80.06 L187.38,83.13 L187.08,86.21 L186.58,88.25 L186.08,90.81 L185.67,93.38 L185.27,95.42 L185.57,97.47 L185.27,99.52 M190.00,75.65 L192.11,75.04 L194.32,74.94 M194.32,74.94 L194.82,73.40 L198.04,72.17 L198.94,72.68 M187.48,63.57 L188.79,63.67 L191.81,62.44 L192.11,64.18 L195.12,66.23 L196.63,66.54 L197.13,67.87 L198.74,69.10 L198.94,72.68 M198.94,72.68 L199.34,75.04 L201.36,75.24 L201.76,76.99 L202.86,76.99 L202.56,78.62 M194.32,74.94 L197.13,76.99 L199.55,78.32 L198.54,80.37 L201.46,80.47 L202.56,78.62 M202.56,78.62 L203.57,79.14 L203.37,80.26 L201.56,81.08 L199.55,83.34 M199.55,83.34 L199.04,85.18 L198.74,87.13 M199.55,83.34 L201.56,84.05 L203.77,86.92 M196.43,43.59 L195.73,46.36 L196.43,47.07 M196.43,47.07 L194.32,48.30 L192.51,48.20 L193.72,50.15 L192.71,50.86 L190.80,51.68 L190.00,51.27 M196.43,47.07 L197.33,48.10 L197.64,51.07 L200.15,50.56 M200.05,46.25 L199.14,48.30 L200.15,50.56 M203.16,46.56 L203.06,48.51 L202.76,50.15 M200.15,50.56 L202.16,49.84 L202.76,50.15 M202.76,50.15 L204.57,49.84 L205.58,48.10 M255.64,16.55 L255.74,18.59 L253.73,20.75 L248.70,22.90 L248.70,24.02 M244.18,24.02 L248.70,24.02 M248.70,24.43 L248.70,25.77 L245.39,25.77 L245.39,28.33 L244.38,28.84 L244.38,30.58 L240.36,30.58 M248.70,24.43 L252.52,26.79 L258.66,30.89 L261.77,32.73 M252.52,26.79 L250.92,26.89 L251.92,35.70 L252.12,36.52 L245.89,36.52 L245.19,37.44 M245.19,37.44 L243.38,35.39 L240.86,35.80 M245.19,37.44 L245.89,39.70 M266.10,14.60 L265.79,16.96 L264.99,18.29 L266.50,19.52 L267.00,21.36 M269.01,18.49 L267.80,20.03 L267.00,21.36 M267.00,21.36 L267.40,24.74 L267.10,25.56 L267.80,27.40 L269.41,28.33 M269.41,28.33 L264.99,30.99 L263.18,32.32 L261.77,32.73 M261.77,32.73 L261.77,35.09 L261.07,36.42 L257.75,37.14 M257.75,37.14 L255.44,37.44 L253.43,38.57 L252.02,41.75 M282.58,20.03 L282.58,29.86 M282.58,29.86 L294.54,29.86 M282.58,31.91 L281.58,32.42 L281.58,36.32 L280.07,37.96 L280.47,40.72 L280.07,41.44 M282.58,29.86 L282.58,31.91 L273.43,28.43 L271.52,29.25 L269.41,28.33 M273.43,28.43 L273.03,31.19 L271.42,38.67 M261.07,40.41 L261.67,38.57 L264.29,38.98 L266.50,39.29 L269.81,38.98 L271.42,38.67 M273.03,44.72 L275.95,44.20 L277.56,43.18 L279.26,41.54 L280.47,40.72 M272.03,39.19 L272.53,42.16 L273.03,44.72 M281.48,43.59 L282.68,41.85 L284.59,42.57 L287.61,41.85 L290.42,39.90 L291.63,42.67 M291.63,42.67 L292.23,41.03 L294.04,38.06 L294.65,37.55 L296.15,33.96 M294.04,38.06 L296.66,37.44 L298.67,37.65 L300.27,39.59 M300.27,39.59 L299.67,41.13 L300.88,41.13 M299.67,41.13 L302.18,43.28 L305.70,44.20 L302.69,47.28 L299.67,48.30 L298.67,48.40 M293.54,47.69 L296.66,48.71 L298.67,48.40 M298.67,48.40 L298.67,53.32 L299.27,54.14 M291.63,42.67 L291.73,43.59 L290.62,44.41 L292.94,46.77 L293.54,47.69 M293.54,47.69 L291.63,48.10 L290.62,48.40 L288.41,48.81 M288.41,48.81 L286.60,47.89 L284.99,47.18 L282.88,44.92 L281.48,43.59 M284.99,47.18 L282.58,47.28 L280.27,47.69 L277.86,47.59 L276.05,48.81 M273.03,44.72 L272.03,46.77 L272.53,48.30 L273.53,50.15 M276.05,48.81 L275.04,51.38 L273.53,54.45 L273.03,56.80 L269.71,58.34 M272.03,50.15 L270.52,51.38 L272.03,54.45 L269.51,55.99 L268.61,56.40 M272.03,39.19 L271.02,41.64 L269.51,45.23 L268.61,45.74 L266.50,47.69 M267.30,50.04 L268.81,50.04 L270.52,50.04 L273.53,50.15 M268.81,50.04 L268.81,51.38 L267.00,51.38 M260.16,45.95 L260.26,43.18 L261.07,40.41 M258.66,46.15 L259.06,43.18 L258.35,41.13 M257.45,46.66 L257.95,44.20 L257.45,41.13 M254.64,47.28 L254.94,44.20 L254.64,42.57 L252.02,41.75 M254.64,42.57 L256.95,41.13 L258.35,41.13 L259.66,40.11 L261.07,40.41 M258.35,39.08 L259.66,40.11 M249.91,47.89 L249.11,45.95 L249.01,44.51 L249.51,41.85 L252.02,41.75 M249.51,41.85 L249.41,41.95 L245.99,39.70 L243.68,39.49 L240.66,39.70 M244.18,43.18 L246.39,42.26 L247.10,43.69 L245.99,45.43 M247.10,43.69 L249.01,44.51 M240.66,38.67 L243.38,38.57 L243.58,38.88 L240.86,38.98 M269.71,58.34 L273.84,58.55 L275.14,60.70 L276.95,60.60 L279.37,59.88 L279.57,62.34 L281.58,63.67 L279.57,65.72 L279.57,69.00 L280.97,70.43 M269.31,70.02 L271.72,70.22 L276.05,70.22 L278.46,70.84 L280.97,70.43 M281.58,63.67 L283.08,64.28 L284.99,64.69 L286.10,61.62 L288.21,60.80 M288.41,48.81 L287.61,50.86 L287.21,53.42 L286.60,55.27 L287.01,57.01 L286.90,58.55 L288.21,60.80 M291.63,48.10 L292.63,50.56 L291.63,52.40 L291.53,53.42 M291.53,53.42 L295.35,55.78 L296.86,57.21 M287.21,53.42 L291.53,53.42 M288.21,60.80 L290.52,62.03 L291.63,62.13 L292.23,64.18 L295.15,64.28 L298.06,63.05 M287.81,68.38 L290.62,69.61 L290.42,71.86 L288.92,75.35 M282.88,70.63 L285.60,69.30 L287.81,68.38 M287.81,68.38 L290.42,66.33 L290.83,66.74 L290.62,62.13 M290.83,66.74 L292.63,67.25 L292.94,69.30 L292.13,69.81 L292.43,67.05 L292.23,64.18 M277.56,74.94 L277.56,77.81 M278.46,70.84 L278.56,74.94 L277.56,74.94 M274.04,81.70 L277.56,81.49 L277.56,77.81 M277.56,77.81 L280.07,79.03 L282.58,78.73 L284.59,76.58 L287.01,75.04 M280.97,70.43 L282.88,70.63 L283.59,72.48 L285.30,73.40 L287.01,75.04 M287.01,75.04 L288.92,75.35 M288.92,75.35 L289.62,78.01 L290.52,79.85 M284.59,82.72 L285.60,82.01 L286.90,82.11 L286.80,83.13 L285.60,83.75 L284.59,82.72 M288.61,78.83 L289.62,79.03 L289.52,80.26 L288.61,80.06 L288.61,78.83 M291.83,20.34 L292.53,22.18 M293.24,18.49 L293.14,19.62 L293.14,20.64 L292.53,22.18 M294.54,22.49 L295.65,21.16 L294.65,20.13 L296.66,19.62 L298.67,20.13 L302.39,22.49 L304.20,22.59 L305.40,23.20 M293.74,14.70 L295.65,14.70 L298.36,14.39 L299.97,14.29 M299.97,14.29 L298.67,17.16 L296.45,18.19 M293.34,18.90 L296.45,18.19 M293.54,16.96 L294.24,17.37 L293.24,18.49 M302.49,14.29 L303.19,16.03 L303.79,18.59 L305.40,20.64 L305.70,21.67 M302.49,14.29 L301.88,11.94 L301.28,10.30 L299.27,9.89 M299.97,14.29 L302.49,14.29 M313.04,34.37 L309.72,32.94 L312.74,31.91 L313.44,29.86 L312.94,29.15 L314.15,26.89 M309.93,36.11 L309.72,32.94 L306.71,33.35 L303.69,34.68 L301.18,34.47 L300.48,35.50 M309.32,27.51 L310.33,28.94 L312.94,29.15 M311.63,14.19 L313.75,13.47 L318.27,15.01 L318.97,15.93 L318.67,17.57 L318.37,18.59 L318.77,20.23 L319.58,20.85 L318.67,21.87 L320.28,23.41 L321.08,25.05 L319.38,26.59 M318.67,21.87 L321.79,22.18 L324.20,21.77 L325.61,20.03 L327.82,19.62 L327.32,17.78 L328.93,17.16 L329.33,15.52 L331.84,14.50 M318.97,15.93 L319.98,16.24 L322.29,15.21 L324.30,14.09 L325.81,14.50 L327.82,13.88 L329.33,13.58 L332.34,14.09 M326.01,28.12 L327.82,27.61 L328.82,27.40 L328.32,26.07 L327.82,24.43 L329.83,23.72 L331.84,21.67 L332.44,20.54 L333.35,19.31 L332.34,18.59 L331.84,17.06 L333.85,16.03 L335.66,16.03 M335.66,16.03 L336.87,17.26 L336.57,19.11 L336.87,20.64 L338.17,21.05 M337.97,22.90 L340.89,24.33 L342.90,24.74 L346.02,25.25 M338.17,21.05 L338.98,21.46 L341.89,23.20 L343.90,23.82 L346.02,23.82 L346.02,25.25 M346.72,24.43 L349.94,24.95 L349.94,23.82 L346.72,24.43 M349.94,23.82 L351.95,22.90 L354.06,22.28 L355.26,23.51 M346.02,25.25 L346.82,25.77 L345.91,27.30 L346.62,28.33 L347.02,29.97 M346.82,25.77 L350.34,26.79 L349.43,27.81 L350.24,28.12 L350.54,30.58 M355.26,23.51 L352.95,25.15 L352.45,27.30 L351.24,27.92 L350.54,30.58 M355.26,23.51 L356.47,24.23 L355.67,26.99 L357.48,29.76 L359.18,30.48 M358.08,31.50 L355.97,32.94 L356.47,35.70 L356.57,39.08 L357.17,42.16 L356.47,42.16 M358.08,31.50 L359.28,32.42 L358.98,34.37 L360.49,33.96 L362.70,34.58 L363.51,37.34 M363.51,37.34 L361.19,37.75 L360.59,39.90 M360.19,29.45 L362.00,31.91 L362.50,33.24 L364.51,35.39 L365.52,37.55 M359.18,30.48 L360.19,29.45 M360.19,29.45 L363.31,28.53 L364.71,29.04 L366.02,30.27 M365.52,37.55 L364.21,40.52 L362.40,41.75 M363.51,37.34 L365.52,37.55 M358.08,45.84 L359.79,46.46 L360.09,46.05 M367.63,50.35 L370.04,50.86 L372.55,50.97 L373.56,48.81 L375.77,48.10 M399.19,55.06 L399.19,61.72 M383.21,61.62 L383.01,62.13 M331.84,14.50 L332.85,14.09 L331.84,12.86 L331.54,11.94 L333.35,10.81 L335.86,10.30 L338.07,9.38 L337.87,6.40 L340.39,5.79 M340.89,5.28 L344.91,2.20 M347.93,5.28 L348.93,6.30 L351.44,6.30 L354.26,8.66 L357.98,8.76 L363.00,9.78 L368.03,8.76 L369.84,7.63 L369.34,6.81 L371.05,6.40 L374.06,5.58 L375.07,5.28 M382.41,11.53 L384.12,10.40 L386.13,9.48 L387.83,8.97 L388.74,8.97 M384.22,13.78 L386.53,13.17 M388.74,8.97 L389.34,6.40 L391.15,5.28 M310.53,9.68 L313.75,10.09 L315.76,8.86 L317.77,9.38 L318.77,10.19 L320.28,11.53 L321.79,12.45 L324.30,14.09 M313.65,6.30 L313.75,10.09 M315.76,8.86 L316.26,5.69 M317.77,9.38 L318.77,6.92 L319.78,7.84 L322.69,7.63 L323.80,9.38 L325.81,10.40 L326.91,9.99 L328.22,9.27 L328.82,9.07 L331.34,8.86 L332.34,8.35 L333.85,8.35 L338.07,9.38 M325.81,14.50 L326.11,12.86 L328.32,11.83 L327.32,11.32 L328.82,10.40 L330.84,10.91 L331.54,11.94 M327.82,13.88 L328.32,11.83 M255.64,7.94 L257.45,8.66 L260.67,8.97 M248.50,9.48 L250.92,9.48 L250.51,11.42 L250.21,12.65 L250.01,14.29 M264.99,7.53 L264.49,6.30 L264.49,5.28 M271.12,5.69 L273.03,5.28 M272.73,6.10 L274.04,6.10 L276.55,6.40 L276.85,7.84 L276.05,8.86 M274.04,6.10 L274.54,5.69 M276.55,6.40 L277.05,5.28 M276.85,7.84 L278.06,8.35 L278.16,9.48 L277.56,10.40 L277.76,11.83 M276.95,9.48 L278.06,8.86 L278.06,8.35 M278.16,9.48 L280.17,9.07 L280.57,10.09 L280.17,10.30 L278.46,10.50 M280.17,9.07 L280.07,7.12 L280.47,6.81 M280.57,10.09 L283.59,10.09 L283.99,9.58 L285.60,9.38 M280.47,7.33 L282.58,7.63 L284.59,7.12 L286.20,7.63 M283.59,10.60 L284.19,9.68 L283.59,10.09 M280.47,6.81 L279.06,6.51 L277.86,5.28 M299.27,9.89 L301.28,10.30 L302.69,10.09 L304.30,10.30 L306.31,9.58 M301.28,10.30 L302.29,11.01 L303.19,11.94 L302.49,11.73 L301.88,11.94 M304.20,12.55 L305.70,12.96 L306.61,13.06 M297.66,7.94 L299.67,8.15 L302.69,8.86 L304.20,9.48 L306.31,9.58 M285.80,5.79 L286.30,6.10 L287.21,5.99" fill="none" stroke="#000" stroke-width="0.8" stroke-linejoin="round"/>
<rect x="101.63" y="16.70" width="40.21" height="20.49" fill="#ff8c00" fill-opacity="0.50" stroke="#ff8c00" stroke-opacity="0.50" stroke-width="0.75"/>
<rect x="146.87" y="62.79" width="40.21" height="20.49" fill="#ff8c00" fill-opacity="0.50" stroke="#ff8c00" stroke-opacity="0.50" stroke-width="0.75"/>
<rect x="202.16" y="21.82" width="40.21" height="20.49" fill="#ff8c00" fill-opacity="0.50" stroke="#ff8c00" stroke-opacity="0.50" stroke-width="0.75"/>
<rect x="232.32" y="62.79" width="40.21" height="20.49" fill="#ff8c00" fill-opacity="0.50" stroke="#ff8c00" stroke-opacity="0.50" stroke-width="0.75"/>
<rect x="332.85" y="73.04" width="40.21" height="20.49" fill="#ff8c00" fill-opacity="0.50" stroke="#ff8c00" stroke-opacity="0.50" stroke-width="0.75"/>
<rect x="76.50" y="26.94" width="40.21" height="15.37" fill="#0000ff" fill-opacity="0.30" stroke="#0000ff" stroke-opacity="0.30" stroke-width="0.75"/>
<rect x="76.50" y="62.79" width="60.32" height="15.37" fill="#0000ff" fill-opacity="0.30" stroke="#0000ff" stroke-opacity="0.30" stroke-width="0.75"/>
<rect x="177.03" y="26.94" width="40.21" height="15.37" fill="#0000ff" fill-opacity="0.30" stroke="#0000ff" stroke-opacity="0.30" stroke-width="0.75"/>
<rect x="217.24" y="62.79" width="30.16" height="15.37" fill="#0000ff" fill-opacity="0.30" stroke="#0000ff" stroke-opacity="0.30" stroke-width="0.75"/>
<rect x="297.66" y="62.79" width="50.26" height="15.37" fill="#0000ff" fill-opacity="0.30" stroke="#0000ff" stroke-opacity="0.30" stroke-width="0.75"/>
<rect x="382.10" y="26.94" width="61.32" height="15.37" fill="#0000ff" fill-opacity="0.30" stroke="#0000ff" stroke-opacity="0.30" stroke-width="0.75"/>
<rect x="297.66" y="16.70" width="50.26" height="46.10" fill="#006400" fill-opacity="0.50" stroke="#006400" stroke-opacity="0.50" stroke-width="0.75"/>
<rect x="347.93" y="42.31" width="95.50" height="20.49" fill="#808080" fill-opacity="0.50" stroke="#808080" stroke-opacity="0.50" stroke-width="0.75"/>
<rect x="71.47" y="42.31" width="25.13" height="20.49" fill="#808080" fill-opacity="0.50" stroke="#808080" stroke-opacity="0.50" stroke-width="0.75"/>
<path d="M76.40,93.38 L438.50,93.38 M76.40,72.89 L438.50,72.89 M76.40,52.40 L438.50,52.40 M76.40,31.91 L438.50,31.91 M76.40,11.42 L438.50,11.42 M166.97,98.50 L166.97,6.40 M257.45,98.50 L257.45,6.40 M347.93,98.50 L347.93,6.40" fill="none" stroke="#808080" stroke-opacity="0.6" stroke-width="1" stroke-dasharray="5.0 2.18"/>
</g>
<rect x="76.50" y="6.40" width="362.00" height="92.10" fill="none" stroke="#000" stroke-width="0.6"/>
<rect x="73.2" y="1" width="18.6" height="15.6" fill="#fff"/>
<text x="82.50" y="11.10" text-anchor="middle" textLength="11.28" lengthAdjust="spacingAndGlyphs"><tspan font-size="8.67">(a)</tspan></text>
<rect x="361" y="10" width="73" height="51.4" rx="2" fill="#fff" fill-opacity="0.8" stroke="#ccc" stroke-opacity="0.8" stroke-width="0.8"/>
<rect x="364.8" y="14.00" width="16.8" height="6.2" fill="#ff8c00" fill-opacity="0.50" stroke="#ff8c00" stroke-opacity="0.50" stroke-width="1"/>
<text x="388.30" y="20.30" textLength="17.76" lengthAdjust="spacingAndGlyphs"><tspan font-size="8.61">TrSc</tspan></text>
<rect x="364.8" y="26.20" width="16.8" height="6.2" fill="#0000ff" fill-opacity="0.30" stroke="#0000ff" stroke-opacity="0.30" stroke-width="1"/>
<text x="388.30" y="32.45" textLength="10.72" lengthAdjust="spacingAndGlyphs"><tspan font-size="8.61">Cu</tspan></text>
<rect x="364.8" y="38.40" width="16.8" height="6.2" fill="#006400" fill-opacity="0.50" stroke="#006400" stroke-opacity="0.50" stroke-width="1"/>
<text x="388.30" y="44.60" textLength="31.53" lengthAdjust="spacingAndGlyphs"><tspan font-size="8.61">INDOEX</tspan></text>
<rect x="364.8" y="50.60" width="16.8" height="6.2" fill="#808080" fill-opacity="0.50" stroke="#808080" stroke-opacity="0.50" stroke-width="1"/>
<text x="388.30" y="56.75" textLength="43.54" lengthAdjust="spacingAndGlyphs"><tspan font-size="8.61">Warm Pool</tspan></text>
<text x="73.60" y="14.22" text-anchor="end" textLength="20.92" lengthAdjust="spacingAndGlyphs"><tspan font-size="8.88">40°N</tspan></text>
<text x="441.20" y="14.22" textLength="20.92" lengthAdjust="spacingAndGlyphs"><tspan font-size="8.88">40°N</tspan></text>
<text x="73.60" y="34.71" text-anchor="end" textLength="20.92" lengthAdjust="spacingAndGlyphs"><tspan font-size="8.88">20°N</tspan></text>
<text x="441.20" y="34.71" textLength="20.92" lengthAdjust="spacingAndGlyphs"><tspan font-size="8.88">20°N</tspan></text>
<text x="73.60" y="55.20" text-anchor="end" textLength="9.43" lengthAdjust="spacingAndGlyphs"><tspan font-size="8.88">0°</tspan></text>
<text x="441.20" y="55.20" textLength="9.43" lengthAdjust="spacingAndGlyphs"><tspan font-size="8.88">0°</tspan></text>
<text x="73.60" y="75.69" text-anchor="end" textLength="19.98" lengthAdjust="spacingAndGlyphs"><tspan font-size="8.88">20°S</tspan></text>
<text x="441.20" y="75.69" textLength="19.98" lengthAdjust="spacingAndGlyphs"><tspan font-size="8.88">20°S</tspan></text>
<text x="73.60" y="96.18" text-anchor="end" textLength="19.98" lengthAdjust="spacingAndGlyphs"><tspan font-size="8.88">40°S</tspan></text>
<text x="441.20" y="96.18" textLength="19.98" lengthAdjust="spacingAndGlyphs"><tspan font-size="8.88">40°S</tspan></text>
<text x="166.97" y="108.60" text-anchor="middle" textLength="22.92" lengthAdjust="spacingAndGlyphs"><tspan font-size="8.88">90°W</tspan></text>
<text x="257.45" y="108.60" text-anchor="middle" textLength="9.43" lengthAdjust="spacingAndGlyphs"><tspan font-size="8.88">0°</tspan></text>
<text x="347.93" y="108.60" text-anchor="middle" textLength="19.96" lengthAdjust="spacingAndGlyphs"><tspan font-size="8.88">90°E</tspan></text>
<path d="M44.74,130.40 L44.74,340.00 M79.50,130.40 L79.50,340.00 M114.26,130.40 L114.26,340.00 M149.02,130.40 L149.02,340.00 M183.78,130.40 L183.78,340.00 M218.54,130.40 L218.54,340.00 M31.00,340.00 L232.50,340.00 M31.00,316.71 L232.50,316.71 M31.00,293.42 L232.50,293.42 M31.00,270.13 L232.50,270.13 M31.00,246.84 L232.50,246.84 M31.00,223.56 L232.50,223.56 M31.00,200.27 L232.50,200.27 M31.00,176.98 L232.50,176.98 M31.00,153.69 L232.50,153.69 M31.00,130.40 L232.50,130.40" stroke="#b0b0b0" stroke-width="0.8" fill="none"/>
<path d="M79.50,340.00 L79.50,130.40" stroke="#000" stroke-width="1" stroke-dasharray="3.77 1.63" stroke-dashoffset="4.3" fill="none"/>
<g clip-path="url(#bc)" fill="none" stroke-width="2" stroke-linejoin="round" stroke-linecap="butt">
<path d="M86.00,129.00 L91.60,130.30 L100.70,132.20 L109.60,134.00 L115.60,135.40 L120.20,138.00 L127.20,141.80 L134.40,145.00 L141.60,147.40 L150.00,149.60 L157.20,151.80 L162.00,154.20 L170.40,158.60 L176.00,162.00 L182.80,165.00 L188.50,167.10 L194.80,169.10 L201.00,173.30 L206.70,177.30 L212.40,181.60 L217.50,185.80 L220.50,191.50 L219.20,196.60 L216.90,202.30 L212.00,207.90 L203.60,212.80 L193.80,219.80 L184.00,224.70 L174.20,230.30 L164.40,235.90 L156.00,241.50 L148.00,246.50 L142.60,250.00 L139.20,253.40 L136.60,257.70 L132.20,260.80 L125.30,265.10 L118.40,271.20 L113.60,275.90 L109.60,280.00 L104.80,284.20 L100.00,288.40 L95.80,292.90 L94.00,296.00 L87.10,302.20 L79.10,308.40 L71.00,312.80 L66.40,317.00 L62.90,321.20 L60.60,325.80 L59.10,331.20 L57.80,336.50 L57.50,339.50 L57.50,341.00" stroke="#ff8c00"/>
<path d="M66.00,128.30 L70.00,130.30 L79.40,134.40 L88.10,139.40 L96.80,143.70 L105.60,147.50 L114.40,150.80 L121.00,153.50 L127.20,156.20 L134.40,161.00 L140.20,164.00 L145.90,165.90 L151.90,169.20 L157.80,174.90 L161.00,178.50 L163.80,183.00 L166.20,187.00 L167.50,191.20 L167.00,195.00 L166.40,198.60 L164.40,203.00 L163.80,204.60 L160.50,207.00 L157.80,209.00 L150.20,215.00 L140.40,223.40 L134.70,228.50 L129.10,233.30 L121.20,239.30 L116.30,244.10 L110.90,248.80 L106.90,253.60 L104.20,259.00 L100.50,262.50 L97.40,265.10 L92.00,271.10 L86.00,278.30 L79.80,285.80 L72.20,296.00 L66.00,302.80 L60.00,309.00 L55.70,312.00 L50.00,317.20 L45.50,322.30 L42.40,326.80 L40.40,331.20 L39.20,335.70 L38.80,339.50 L38.80,341.00" stroke="#0000ff"/>
<path d="M50.00,128.50 L51.40,130.30 L54.50,133.30 L56.50,135.50 L58.60,139.70 L61.50,143.50 L64.30,148.20 L66.20,153.00 L68.10,158.70 L70.40,164.30 L72.80,169.50 L75.70,173.50 L79.50,176.50 L84.90,180.60 L91.40,184.40 L99.00,188.70 L105.30,192.60 L111.10,196.10 L115.10,200.80 L119.90,205.50 L124.60,210.90 L126.60,216.40 L126.90,222.40 L125.30,227.80 L122.60,234.60 L120.40,239.00 L118.40,244.10 L115.00,250.90 L112.30,254.90 L106.90,261.70 L102.80,269.80 L100.10,276.50 L98.10,284.60 L95.80,293.20 L92.70,303.50 L89.00,314.70 L85.90,322.70 L82.80,329.60 L81.50,332.70 L81.50,337.00 L79.10,338.90 L76.60,339.40 L74.00,339.90" stroke="#006400"/>
<path d="M60.50,128.50 L58.90,130.30 L55.70,133.00 L53.00,136.30 L52.20,141.10 L51.70,147.60 L51.40,152.50 L53.00,157.40 L53.90,160.00 L55.50,164.10 L56.80,169.50 L57.50,174.90 L57.80,181.60 L58.20,192.40 L59.50,197.80 L60.20,203.20 L60.90,210.40 L60.50,218.50 L59.90,225.30 L58.20,232.00 L56.20,238.80 L54.10,245.50 L52.60,250.50 L51.70,255.00 L51.30,258.50 L50.10,263.50 L49.20,269.00 L48.80,277.00 L48.40,283.80 L48.80,290.50 L49.30,295.00 L49.70,300.10 L49.30,305.20 L48.10,311.50 L46.20,317.90 L44.60,324.20 L44.60,329.30 L45.10,334.40 L45.70,339.50 L45.80,341.00" stroke="#000000"/>
</g>
<rect x="31.00" y="130.40" width="201.50" height="209.60" fill="none" stroke="#000" stroke-width="0.6"/>
<path d="M44.74,340.00 L44.74,342.80 M79.50,340.00 L79.50,342.80 M114.26,340.00 L114.26,342.80 M149.02,340.00 L149.02,342.80 M183.78,340.00 L183.78,342.80 M218.54,340.00 L218.54,342.80 M28.20,340.00 L31.00,340.00 M28.20,316.71 L31.00,316.71 M28.20,293.42 L31.00,293.42 M28.20,270.13 L31.00,270.13 M28.20,246.84 L31.00,246.84 M28.20,223.56 L31.00,223.56 M28.20,200.27 L31.00,200.27 M28.20,176.98 L31.00,176.98 M28.20,153.69 L31.00,153.69 M28.20,130.40 L31.00,130.40" stroke="#000" stroke-width="0.65" fill="none"/>
<text x="44.74" y="351.00" text-anchor="middle" textLength="11.94" lengthAdjust="spacingAndGlyphs"><tspan font-size="8.67">−5</tspan></text>
<text x="79.50" y="351.00" text-anchor="middle" textLength="5.15" lengthAdjust="spacingAndGlyphs"><tspan font-size="8.67">0</tspan></text>
<text x="114.26" y="351.00" text-anchor="middle" textLength="5.15" lengthAdjust="spacingAndGlyphs"><tspan font-size="8.67">5</tspan></text>
<text x="149.02" y="351.00" text-anchor="middle" textLength="10.31" lengthAdjust="spacingAndGlyphs"><tspan font-size="8.67">10</tspan></text>
<text x="183.78" y="351.00" text-anchor="middle" textLength="10.31" lengthAdjust="spacingAndGlyphs"><tspan font-size="8.67">15</tspan></text>
<text x="218.54" y="351.00" text-anchor="middle" textLength="10.31" lengthAdjust="spacingAndGlyphs"><tspan font-size="8.67">20</tspan></text>
<text x="26.05" y="343.50" text-anchor="end" textLength="5.15" lengthAdjust="spacingAndGlyphs"><tspan font-size="8.67">0</tspan></text>
<text x="26.05" y="320.21" text-anchor="end" textLength="5.15" lengthAdjust="spacingAndGlyphs"><tspan font-size="8.67">2</tspan></text>
<text x="26.05" y="296.92" text-anchor="end" textLength="5.15" lengthAdjust="spacingAndGlyphs"><tspan font-size="8.67">4</tspan></text>
<text x="26.05" y="273.63" text-anchor="end" textLength="5.15" lengthAdjust="spacingAndGlyphs"><tspan font-size="8.67">6</tspan></text>
<text x="26.05" y="250.34" text-anchor="end" textLength="5.15" lengthAdjust="spacingAndGlyphs"><tspan font-size="8.67">8</tspan></text>
<text x="26.05" y="227.06" text-anchor="end" textLength="10.31" lengthAdjust="spacingAndGlyphs"><tspan font-size="8.67">10</tspan></text>
<text x="26.05" y="203.77" text-anchor="end" textLength="10.31" lengthAdjust="spacingAndGlyphs"><tspan font-size="8.67">12</tspan></text>
<text x="26.05" y="180.48" text-anchor="end" textLength="10.31" lengthAdjust="spacingAndGlyphs"><tspan font-size="8.67">14</tspan></text>
<text x="26.05" y="157.19" text-anchor="end" textLength="10.31" lengthAdjust="spacingAndGlyphs"><tspan font-size="8.67">16</tspan></text>
<text x="26.05" y="133.90" text-anchor="end" textLength="10.31" lengthAdjust="spacingAndGlyphs"><tspan font-size="8.67">18</tspan></text>
<rect x="27.30" y="125.8" width="19.00" height="15.2" fill="#fff"/>
<text x="36.80" y="136.20" text-anchor="middle" textLength="11.46" lengthAdjust="spacingAndGlyphs"><tspan font-size="8.67">(b)</tspan></text>
<text transform="translate(11.30,235.35) rotate(-90)" text-anchor="middle" textLength="53.13" lengthAdjust="spacingAndGlyphs"><tspan font-size="8.67">Altitude [km]</tspan></text>
<text x="131.50" y="363.20" text-anchor="middle" textLength="104.83" lengthAdjust="spacingAndGlyphs"><tspan font-size="8.63">Aeolus wind speed [</tspan><tspan font-size="8.63" font-style="italic">ms</tspan><tspan font-size="6.04" dy="-3.39">−1</tspan><tspan font-size="8.63" dy="3.39">]</tspan></text>
<rect x="135.50" y="274.60" width="92.10" height="60.60" rx="2.2" fill="#fff" fill-opacity="0.8" stroke="#ccc" stroke-opacity="0.8" stroke-width="0.8"/><path d="M138.20,282.00 L158.00,282.00" stroke="#ff8c00" stroke-width="2"/><text x="164.40" y="285.00" textLength="44.79" lengthAdjust="spacingAndGlyphs"><tspan font-size="9.29">TrSc </tspan><tspan font-size="9.29" font-style="italic">u</tspan><tspan font-size="6.50" font-style="italic" dy="1.61">allsky</tspan></text><path d="M138.20,296.60 L158.00,296.60" stroke="#0000ff" stroke-width="2"/><text x="164.40" y="299.60" textLength="37.20" lengthAdjust="spacingAndGlyphs"><tspan font-size="9.29">Cu </tspan><tspan font-size="9.29" font-style="italic">u</tspan><tspan font-size="6.50" font-style="italic" dy="1.61">allsky</tspan></text><path d="M138.20,311.20 L158.00,311.20" stroke="#006400" stroke-width="2"/><text x="164.40" y="314.20" textLength="59.64" lengthAdjust="spacingAndGlyphs"><tspan font-size="9.29">INDOEX </tspan><tspan font-size="9.29" font-style="italic">u</tspan><tspan font-size="6.50" font-style="italic" dy="1.61">allsky</tspan></text><path d="M138.20,325.80 L158.00,325.80" stroke="#000000" stroke-width="2"/><text x="164.40" y="328.80" textLength="39.46" lengthAdjust="spacingAndGlyphs"><tspan font-size="9.29">WP </tspan><tspan font-size="9.29" font-style="italic">u</tspan><tspan font-size="6.50" font-style="italic" dy="1.61">allsky</tspan></text>
<path d="M304.79,130.40 L304.79,340.00 M349.54,130.40 L349.54,340.00 M394.30,130.40 L394.30,340.00 M439.06,130.40 L439.06,340.00 M483.81,130.40 L483.81,340.00 M282.40,340.00 L484.00,340.00 M282.40,316.71 L484.00,316.71 M282.40,293.42 L484.00,293.42 M282.40,270.13 L484.00,270.13 M282.40,246.84 L484.00,246.84 M282.40,223.56 L484.00,223.56 M282.40,200.27 L484.00,200.27 M282.40,176.98 L484.00,176.98 M282.40,153.69 L484.00,153.69 M282.40,130.40 L484.00,130.40" stroke="#b0b0b0" stroke-width="0.8" fill="none"/>
<path d="M394.30,340.00 L394.30,130.40" stroke="#000" stroke-width="1" stroke-dasharray="3.77 1.63" stroke-dashoffset="4.3" fill="none"/>
<g clip-path="url(#cc)" fill="none" stroke-width="2" stroke-linejoin="round" stroke-linecap="butt">
<path d="M315.50,129.00 L313.60,130.40 L305.00,135.60 L296.90,141.50 L307.70,146.40 L308.20,151.20 L306.60,155.00 L303.90,157.70 L309.30,159.90 L318.00,163.10 L323.40,168.80 L331.00,174.80 L339.60,177.30 L349.40,179.60 L358.00,182.40 L365.00,184.30 L375.80,187.70 L386.60,191.50 L396.40,194.80 L408.30,199.10 L412.00,199.90 L420.90,201.70 L429.90,206.90 L438.80,209.90 L447.70,213.60 L454.40,219.60 L453.70,225.50 L455.90,230.70 L454.40,235.90 L451.40,241.10 L444.70,244.90 L441.00,247.80 L438.00,252.50 L434.70,257.60 L434.70,263.20 L439.60,270.20 L435.40,278.60 L430.50,287.00 L429.00,291.50 L428.20,294.50 L427.90,297.00 L427.90,304.10 L431.40,312.50 L432.10,316.00 L427.20,322.30 L421.50,327.30 L417.00,331.90" stroke="#ff8c00"/>
<path d="M330.00,129.00 L328.20,130.40 L319.00,136.10 L310.40,141.50 L312.00,146.90 L316.30,153.40 L316.90,158.30 L323.40,160.40 L331.00,162.90 L339.60,168.80 L349.40,174.80 L359.10,177.50 L365.00,178.50 L375.80,182.30 L386.60,187.20 L396.40,192.10 L405.00,196.40 L412.00,199.50 L420.90,203.20 L426.90,209.10 L434.30,214.30 L439.50,219.60 L438.80,226.30 L439.50,233.70 L438.00,239.60 L432.80,244.10 L427.60,248.60 L424.20,259.00 L425.60,266.00 L429.10,270.20 L425.60,277.20 L422.10,285.60 L420.10,291.00 L420.10,295.60 L422.70,304.10 L427.20,312.50 L427.90,316.00 L423.00,322.30 L417.30,327.30 L412.40,331.90" stroke="#0000ff"/>
<path d="M384.00,128.80 L382.30,130.40 L375.80,135.60 L374.20,142.10 L375.80,149.60 L379.10,155.10 L381.80,158.30 L379.60,163.70 L375.30,168.00 L368.00,172.10 L361.30,175.30 L357.00,179.60 L355.90,185.10 L358.00,191.50 L364.50,195.20 L367.70,197.00 L372.40,202.60 L382.80,210.10 L390.00,214.60 L394.20,217.70 L400.40,222.80 L404.60,225.00 L408.00,228.20 L410.30,230.50 L412.50,233.50 L415.70,239.60 L418.00,248.60 L418.60,249.20 L417.90,256.20 L415.10,264.60 L410.20,271.60 L406.00,278.60 L403.90,285.60 L403.30,290.00 L404.70,298.40 L406.10,306.90 L407.20,315.30 L409.60,320.20 L406.10,325.80 L408.90,331.50" stroke="#006400"/>
<path d="M412.30,128.80 L412.10,130.40 L411.50,135.60 L408.30,138.80 L402.90,142.10 L394.20,145.30 L391.00,147.50 L388.80,151.80 L387.70,157.20 L387.70,162.60 L391.00,165.90 L393.70,169.30 L397.50,174.70 L399.60,180.20 L399.80,185.60 L398.50,191.00 L397.30,196.40 L396.90,201.80 L397.50,205.00 L399.70,213.00 L402.50,224.00 L405.10,234.90 L406.80,241.40 L405.50,246.00 L404.40,252.00 L401.80,259.00 L399.70,266.00 L396.90,273.00 L394.10,278.60 L391.70,284.20 L390.90,288.40 L391.50,292.00 L393.40,301.20 L397.70,307.60 L400.50,314.60 L400.50,319.50 L397.70,325.10 L394.10,330.80 L393.40,332.20" stroke="#000000"/>
</g>
<rect x="282.40" y="130.40" width="201.60" height="209.60" fill="none" stroke="#000" stroke-width="0.6"/>
<path d="M304.79,340.00 L304.79,342.80 M349.54,340.00 L349.54,342.80 M394.30,340.00 L394.30,342.80 M439.06,340.00 L439.06,342.80 M483.81,340.00 L483.81,342.80 M279.60,340.00 L282.40,340.00 M279.60,316.71 L282.40,316.71 M279.60,293.42 L282.40,293.42 M279.60,270.13 L282.40,270.13 M279.60,246.84 L282.40,246.84 M279.60,223.56 L282.40,223.56 M279.60,200.27 L282.40,200.27 M279.60,176.98 L282.40,176.98 M279.60,153.69 L282.40,153.69 M279.60,130.40 L282.40,130.40" stroke="#000" stroke-width="0.65" fill="none"/>
<text x="304.79" y="351.00" text-anchor="middle" textLength="29.98" lengthAdjust="spacingAndGlyphs"><tspan font-size="8.67">−0.004</tspan></text>
<text x="349.54" y="351.00" text-anchor="middle" textLength="29.98" lengthAdjust="spacingAndGlyphs"><tspan font-size="8.67">−0.002</tspan></text>
<text x="394.30" y="351.00" text-anchor="middle" textLength="23.19" lengthAdjust="spacingAndGlyphs"><tspan font-size="8.67">0.000</tspan></text>
<text x="439.06" y="351.00" text-anchor="middle" textLength="23.19" lengthAdjust="spacingAndGlyphs"><tspan font-size="8.67">0.002</tspan></text>
<text x="483.81" y="351.00" text-anchor="middle" textLength="23.19" lengthAdjust="spacingAndGlyphs"><tspan font-size="8.67">0.004</tspan></text>
<text x="277.45" y="343.50" text-anchor="end" textLength="5.15" lengthAdjust="spacingAndGlyphs"><tspan font-size="8.67">0</tspan></text>
<text x="277.45" y="320.21" text-anchor="end" textLength="5.15" lengthAdjust="spacingAndGlyphs"><tspan font-size="8.67">2</tspan></text>
<text x="277.45" y="296.92" text-anchor="end" textLength="5.15" lengthAdjust="spacingAndGlyphs"><tspan font-size="8.67">4</tspan></text>
<text x="277.45" y="273.63" text-anchor="end" textLength="5.15" lengthAdjust="spacingAndGlyphs"><tspan font-size="8.67">6</tspan></text>
<text x="277.45" y="250.34" text-anchor="end" textLength="5.15" lengthAdjust="spacingAndGlyphs"><tspan font-size="8.67">8</tspan></text>
<text x="277.45" y="227.06" text-anchor="end" textLength="10.31" lengthAdjust="spacingAndGlyphs"><tspan font-size="8.67">10</tspan></text>
<text x="277.45" y="203.77" text-anchor="end" textLength="10.31" lengthAdjust="spacingAndGlyphs"><tspan font-size="8.67">12</tspan></text>
<text x="277.45" y="180.48" text-anchor="end" textLength="10.31" lengthAdjust="spacingAndGlyphs"><tspan font-size="8.67">14</tspan></text>
<text x="277.45" y="157.19" text-anchor="end" textLength="10.31" lengthAdjust="spacingAndGlyphs"><tspan font-size="8.67">16</tspan></text>
<text x="277.45" y="133.90" text-anchor="end" textLength="10.31" lengthAdjust="spacingAndGlyphs"><tspan font-size="8.67">18</tspan></text>
<rect x="278.70" y="125.8" width="18.30" height="15.2" fill="#fff"/>
<text x="288.20" y="136.20" text-anchor="middle" textLength="10.77" lengthAdjust="spacingAndGlyphs"><tspan font-size="8.67">(c)</tspan></text>
<text transform="translate(262.80,235.35) rotate(-90)" text-anchor="middle" textLength="53.13" lengthAdjust="spacingAndGlyphs"><tspan font-size="8.67">Altitude [km]</tspan></text>
<text x="383.20" y="363.20" text-anchor="middle" textLength="95.13" lengthAdjust="spacingAndGlyphs"><tspan font-size="8.63">Aeolus wind shear [</tspan><tspan font-size="8.63" font-style="italic">s</tspan><tspan font-size="6.04" dy="-3.39">−1</tspan><tspan font-size="8.63" dy="3.39">]</tspan></text>
<rect x="286.25" y="274.60" width="92.10" height="60.60" rx="2.2" fill="#fff" fill-opacity="0.8" stroke="#ccc" stroke-opacity="0.8" stroke-width="0.8"/><path d="M289.00,282.00 L308.80,282.00" stroke="#ff8c00" stroke-width="2"/><text x="315.15" y="285.00" textLength="44.80" lengthAdjust="spacingAndGlyphs"><tspan font-size="9.29">TrSc </tspan><tspan font-size="9.29" font-style="italic">S</tspan><tspan font-size="6.50" font-style="italic" dy="1.61">allsky</tspan></text><path d="M289.00,296.60 L308.80,296.60" stroke="#0000ff" stroke-width="2"/><text x="315.15" y="299.60" textLength="37.21" lengthAdjust="spacingAndGlyphs"><tspan font-size="9.29">Cu </tspan><tspan font-size="9.29" font-style="italic">S</tspan><tspan font-size="6.50" font-style="italic" dy="1.61">allsky</tspan></text><path d="M289.00,311.20 L308.80,311.20" stroke="#006400" stroke-width="2"/><text x="315.15" y="314.20" textLength="59.65" lengthAdjust="spacingAndGlyphs"><tspan font-size="9.29">INDOEX </tspan><tspan font-size="9.29" font-style="italic">S</tspan><tspan font-size="6.50" font-style="italic" dy="1.61">allsky</tspan></text><path d="M289.00,325.80 L308.80,325.80" stroke="#000000" stroke-width="2"/><text x="315.15" y="328.80" textLength="39.47" lengthAdjust="spacingAndGlyphs"><tspan font-size="9.29">WP </tspan><tspan font-size="9.29" font-style="italic">S</tspan><tspan font-size="6.50" font-style="italic" dy="1.61">allsky</tspan></text>
</svg></body></html>
